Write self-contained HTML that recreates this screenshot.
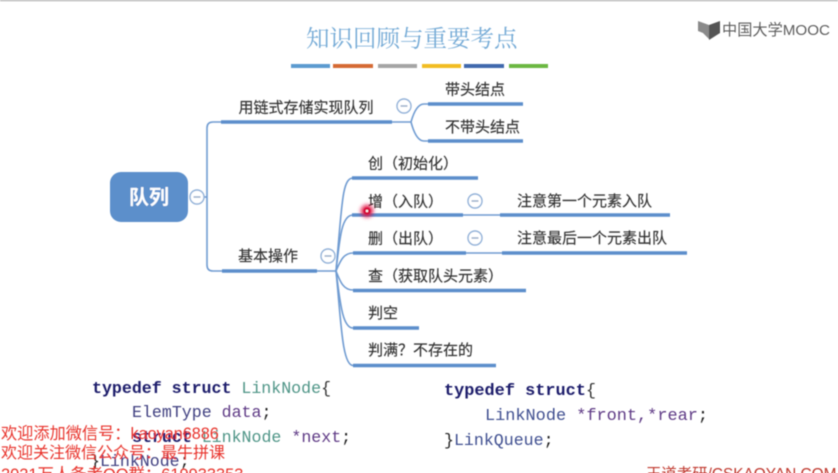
<!DOCTYPE html>
<html lang="zh">
<head>
<meta charset="utf-8">
<style>
html,body{margin:0;padding:0;background:#fff;width:838px;height:473px;overflow:hidden}
svg{display:block}
.c{font-family:"Liberation Sans","Noto Sans CJK SC",sans-serif;font-size:15px;fill:#333;stroke:#333;stroke-width:.15}
.m{font-family:"Liberation Mono",monospace;font-size:16.6px;fill:#3a3a7a}
.r{font-family:"Liberation Sans","Noto Sans CJK SC",sans-serif;font-size:16.2px;fill:#e8332c}
.t{fill:none;stroke:#6f9bd1;stroke-width:1.6}
.b{stroke:#5b8ecb;stroke-width:3.6}
.o{fill:#fff;stroke:#8fb0d8;stroke-width:1.4}
.d{stroke:#8fa5c4;stroke-width:1.4}
</style>
</head>
<body>
<svg width="838" height="473" viewBox="0 0 838 473" xmlns="http://www.w3.org/2000/svg">
<defs>
<filter id="s" x="-5%" y="-5%" width="110%" height="110%"><feGaussianBlur stdDeviation="0.45"/></filter>
<filter id="g" x="-100%" y="-100%" width="300%" height="300%"><feGaussianBlur stdDeviation="2"/></filter>
</defs>
<rect width="838" height="473" fill="#fff"/>
<g filter="url(#s)">
<rect x="0" y="0" width="838" height="1.2" fill="#b0b0b0"/>

<text x="306" y="46.500" font-size="23.500" fill="#74aad6" style="font-family:'Noto Serif CJK SC','Liberation Serif',serif">知识回顾与重要考点</text>

<rect x="291" y="64" width="39" height="4" fill="#5b9bd0"/>
<rect x="333" y="64" width="40" height="4" fill="#d56a35"/>
<rect x="378" y="64" width="39" height="4" fill="#a5a5a5"/>
<rect x="422" y="64" width="39" height="4" fill="#f2bd21"/>
<rect x="464" y="64" width="40" height="4" fill="#3f69ad"/>
<rect x="509" y="64" width="39" height="4" fill="#6cb842"/>

<path d="M698 21 L709 25 L709 39 L703 33 L698 31Z" fill="#8a8a8a"/>
<path d="M709 25 L720 21 L720 33 L709 40Z" fill="#555"/>
<text x="722" y="35" font-size="15.200" fill="#5d5d5d" style="font-family:'Liberation Sans','Noto Sans CJK SC',sans-serif">中国大学MOOC</text>

<rect x="110" y="172" width="78" height="50" rx="11" fill="#5b8fcb"/>
<text x="149" y="204" text-anchor="middle" font-size="20" font-weight="700" fill="#fff" style="font-family:'Liberation Sans','Noto Sans CJK SC',sans-serif">队列</text>

<path class="t" d="M204 197H207"/>
<path class="t" d="M221 122H213Q207 122 207 128V265Q207 271 213 271H222"/>
<path class="t" d="M392 122H411"/>
<path class="t" d="M428 104H424Q416 104 411 122Q416 141 424 141H428"/>
<path class="t" d="M317 271H336"/>
<path class="t" d="M353 178C342 178 342 205 336 271"/>
<path class="t" d="M353 215C342 215 340 235 336 271"/>
<path class="t" d="M353 253C343 253 340 262 336 271"/>
<path class="t" d="M353 290C343 290 340 281 336 271"/>
<path class="t" d="M353 328C342 328 340 300 336 271"/>
<path class="t" d="M353 365.500C342 365.500 341 320 336 271"/>
<path class="t" d="M463 215H500M466 253H502"/>

<path class="b" d="M221 122H392M428 104H523M428 141H523M222 271H317M352 178H478M352 215H463M500 215H670M353 253H466M502 253H687M353 290.500H526M353 328H419M353 365.500H496"/>

<circle cx="197" cy="197" r="7" class="o"/><path class="d" d="M193.500 197H200.500"/>
<circle cx="404" cy="106" r="7" class="o"/><path class="d" d="M400.500 106H407.500"/>
<circle cx="328" cy="256" r="7" class="o"/><path class="d" d="M324.500 256H331.500"/>
<circle cx="475" cy="201" r="7" class="o"/><path class="d" d="M471.500 201H478.500"/>
<circle cx="475" cy="238" r="7" class="o"/><path class="d" d="M471.500 238H478.500"/>

<text class="c" x="238.500" y="112.500">用链式存储实现队列</text>
<text class="c" x="445" y="94.500">带头结点</text>
<text class="c" x="445" y="132">不带头结点</text>
<text class="c" x="238" y="261">基本操作</text>
<text class="c" x="368" y="168.500">创（初始化）</text>
<text class="c" x="368" y="206.500">增（入队）</text>
<text class="c" x="517" y="206">注意第一个元素入队</text>
<text class="c" x="368" y="243.500">删（出队）</text>
<text class="c" x="517" y="243">注意最后一个元素出队</text>
<text class="c" x="368" y="281">查（获取队头元素）</text>
<text class="c" x="368" y="318">判空</text>
<text class="c" x="368" y="355">判满？不存在的</text>

<circle cx="367" cy="211" r="6" fill="#e0103f" filter="url(#g)"/>
<circle cx="367" cy="211" r="3.500" fill="#d40a3a"/>
<circle cx="367" cy="211" r="1.200" fill="#fff"/>

<text class="m" x="92" y="393"><tspan font-weight="700" fill="#1d1d6b">typedef struct</tspan> <tspan fill="#4f9587">LinkNode</tspan><tspan fill="#333">{</tspan></text>
<text class="m" x="132" y="417"><tspan fill="#3f3f80">ElemType</tspan> <tspan fill="#5e3a85">data</tspan><tspan fill="#222">;</tspan></text>
<text class="m" x="132" y="442"><tspan font-weight="700" fill="#1d1d6b">struct</tspan> <tspan fill="#4f9587">LinkNode</tspan> <tspan fill="#5e3a85">*next</tspan><tspan fill="#222">;</tspan></text>
<text class="m" x="90" y="466"><tspan fill="#222">}</tspan><tspan fill="#3f3f80">LinkNode</tspan><tspan fill="#222">;</tspan></text>

<text class="m" x="444" y="395" style="font-size:16.900px"><tspan font-weight="700" fill="#1d1d6b">typedef struct</tspan><tspan fill="#333">{</tspan></text>
<text class="m" x="485" y="420" style="font-size:16.900px"><tspan fill="#3f4f90">LinkNode</tspan> <tspan fill="#5e3a85">*front,*rear</tspan><tspan fill="#222">;</tspan></text>
<text class="m" x="444" y="445"><tspan fill="#222">}</tspan><tspan fill="#3f4f90">LinkQueue</tspan><tspan fill="#222">;</tspan></text>

<text class="r" x="1" y="439">欢迎添加微信号：kaoyan6886</text>
<text class="r" x="1" y="458" style="font-size:16px">欢迎关注微信公众号：最牛拼课</text>
<text class="r" x="1" y="480" style="font-size:16.400px">2021万人备考QQ群：619933353</text>
<text x="646" y="479" font-size="15.400" fill="#c0392f" style="font-family:'Liberation Sans','Noto Sans CJK SC',sans-serif">王道考研/CSKAOYAN.COM</text>
</g>
</svg>
</body>
</html>
